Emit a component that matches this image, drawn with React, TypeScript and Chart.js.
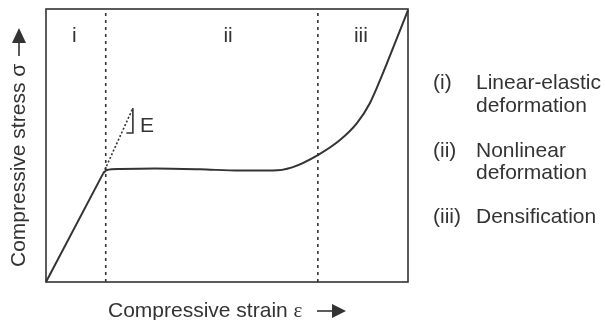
import React, { useEffect, useRef } from "react";
import { Chart, registerables } from "chart.js";

Chart.register(...registerables);

// Linear-elastic segment (x = strain, y = stress, in % of the box)
const elasticX = [0, 15.8];
const elasticY = [0, 39.8];

// Plateau and densification curve
const curveX = [15.8, 16.8, 20.4, 30, 42.5, 53.6, 62.7, 68, 75.1, 81.2, 85.9, 89.5, 92.3, 94.2, 97.0, 100];
const curveY = [39.8, 41.0, 41.4, 41.6, 41.3, 40.8, 40.8, 42.0, 46.5, 52.0, 58.2, 65.6, 74.0, 80.2, 89.5, 99.6];

// Dotted extension of the elastic slope
const slopeX = [15.8, 24.0];
const slopeY = [39.8, 63.7];

// Small slope triangle
const triX = [22.2, 24.0, 24.0];
const triY = [54.6, 54.6, 63.7];

// Region boundaries
const boundaries = [16.5, 75.1];

// Region labels
const regionLabels = ["i", "ii", "iii"];
const regionLabelX = [7.8, 50.3, 87.0];

const legendNums = ["(i)", "(ii)", "(iii)"];
const legendLines = [["Linear-elastic", "deformation"], ["Nonlinear", "deformation"], ["Densification"]];

const xTitle = "Compressive strain ";
const yTitle = "Compressive stress σ";

const INK = "#333333";
const SANS = "'Liberation Sans', Arial, Helvetica, sans-serif";

function toPts(xs: number[], ys: number[]) {
  return xs.map((x, i) => ({ x, y: ys[i] }));
}

const annotations = {
  id: "annotations",
  afterDraw(chart: any) {
    const { ctx, chartArea, scales } = chart;
    const xs = scales.x;
    ctx.save();
    // frame
    ctx.strokeStyle = INK;
    ctx.lineWidth = 1.6;
    ctx.setLineDash([]);
    ctx.strokeRect(chartArea.left, chartArea.top, chartArea.right - chartArea.left, chartArea.bottom - chartArea.top);

    ctx.fillStyle = INK;
    ctx.font = `21px ${SANS}`;
    ctx.textBaseline = "alphabetic";
    // region labels
    ctx.textAlign = "center";
    regionLabels.forEach((t, i) => {
      ctx.fillText(t, xs.getPixelForValue(regionLabelX[i]), 42);
    });
    // E
    ctx.textAlign = "left";
    ctx.fillText("E", 140, 132);

    // legend
    const baselines = [[89, 112], [157, 179], [223]];
    legendNums.forEach((n, i) => {
      ctx.fillText(n, 433, baselines[i][0]);
      legendLines[i].forEach((l, j) => ctx.fillText(l, 476, baselines[i][j]));
    });

    // x title
    ctx.fillText(xTitle, 108, 317);
    const w = ctx.measureText(xTitle).width;
    ctx.font = `21px 'Liberation Serif', 'DejaVu Serif', serif`;
    ctx.fillText("ε", 108 + w, 317);
    // x arrow
    ctx.lineWidth = 1.6;
    ctx.beginPath();
    ctx.moveTo(317, 311);
    ctx.lineTo(333, 311);
    ctx.stroke();
    ctx.beginPath();
    ctx.moveTo(332, 304);
    ctx.lineTo(346, 311);
    ctx.lineTo(332, 318);
    ctx.closePath();
    ctx.fill();

    // y title
    ctx.save();
    ctx.translate(25, 267);
    ctx.rotate(-Math.PI / 2);
    ctx.font = `21px ${SANS}`;
    ctx.textAlign = "left";
    ctx.fillText(yTitle, 0, 0);
    ctx.restore();
    // y arrow
    ctx.beginPath();
    ctx.moveTo(19, 56);
    ctx.lineTo(19, 42);
    ctx.stroke();
    ctx.beginPath();
    ctx.moveTo(12, 43);
    ctx.lineTo(19, 28);
    ctx.lineTo(26, 43);
    ctx.closePath();
    ctx.fill();
    ctx.restore();
  },
};

export default function App() {
  const ref = useRef<HTMLCanvasElement>(null);
  useEffect(() => {
    if (!ref.current) return;
    const lineDs = (data: any, extra: any = {}) => ({
      data,
      showLine: true,
      pointRadius: 0,
      borderColor: INK,
      backgroundColor: INK,
      fill: false,
      clip: false,
      ...extra,
    });
    const chart = new Chart(ref.current, {
      type: "scatter",
      data: {
        datasets: [
          lineDs(toPts(elasticX, elasticY), { borderWidth: 2 }),
          lineDs(toPts(curveX, curveY), { borderWidth: 2, cubicInterpolationMode: "monotone" }),
          lineDs(toPts(slopeX, slopeY), { borderWidth: 1.6, borderDash: [2, 2] }),
          lineDs(toPts(triX, triY), { borderWidth: 1.6 }),
          ...boundaries.map((b) =>
            lineDs([{ x: b, y: 0 }, { x: b, y: 100 }], { borderWidth: 1.6, borderDash: [3, 4] })
          ),
        ],
      },
      options: {
        animation: false,
        responsive: false,
        devicePixelRatio: 1,
        layout: { padding: { left: 46, top: 9, right: 197, bottom: 38 } },
        plugins: { legend: { display: false }, tooltip: { enabled: false } },
        scales: {
          x: { type: "linear", min: 0, max: 100, display: false },
          y: { type: "linear", min: 0, max: 100, display: false },
        },
      },
      plugins: [annotations],
    });
    return () => chart.destroy();
  }, []);
  return (
    <div style={{ position: "absolute", left: 0, top: 0, width: 605, height: 320, background: "#fff" }}>
      <canvas ref={ref} width={605} height={320} />
    </div>
  );
}
